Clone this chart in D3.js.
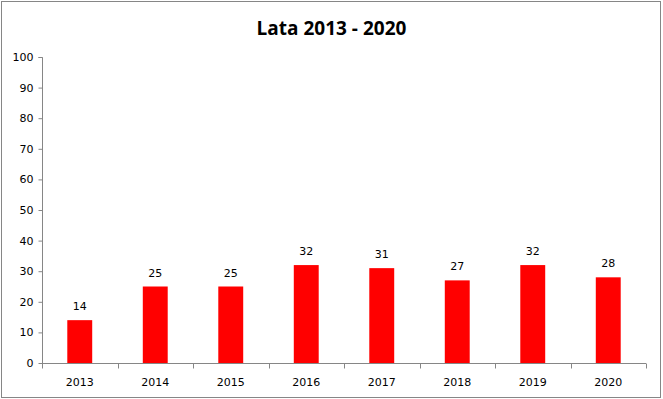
<!DOCTYPE html>
<html>
<head>
<meta charset="utf-8">
<script src="https://cdn.jsdelivr.net/npm/d3@7"></script>
<style>
  body { margin: 0; background: #fff; }
  svg text { font-family: "DejaVu Sans", Verdana, sans-serif; }
</style>
</head>
<body>
<div id="chart"></div>
<script>
// data
const years = ["2013", "2014", "2015", "2016", "2017", "2018", "2019", "2020"];
const values = [14, 25, 25, 32, 31, 27, 32, 28];
const yTicks = [0, 10, 20, 30, 40, 50, 60, 70, 80, 90, 100];
const chartTitle = "Lata 2013 - 2020";

const width = 663, height = 399;
const margin = {top: 57, right: 17, bottom: 36, left: 42};
const axisColor = "#868686";

const svg = d3.select("#chart")
  .append("svg")
    .attr("width", width)
    .attr("height", height);

// outer frame
svg.append("rect")
  .attr("x", 1.5).attr("y", 1.5)
  .attr("width", width - 4).attr("height", height - 3)
  .attr("fill", "#fff")
  .attr("stroke", axisColor)
  .attr("stroke-width", 1);

const x = d3.scaleBand()
  .domain(years)
  .range([margin.left, width - margin.right])
  .paddingInner(0.67)
  .paddingOuter(0.335);

const xb = d3.scaleBand()
  .domain(years)
  .range([margin.left, width - margin.right]);

const y = d3.scaleLinear()
  .domain([0, 100])
  .range([height - margin.bottom, margin.top]);

// title
svg.append("text")
  .attr("x", width / 2)
  .attr("y", 35)
  .attr("text-anchor", "middle")
  .style("font-family", "'Open Sans', 'Liberation Sans', sans-serif")
  .attr("font-weight", "bold")
  .attr("font-size", 19)
  .attr("fill", "#000")
  .text(chartTitle);

// y axis
svg.append("g")
  .attr("transform", `translate(${margin.left + 0.5},0)`)
  .call(d3.axisLeft(y).tickValues(yTicks).tickSize(4).tickPadding(5))
  .call(g => g.select(".domain").attr("stroke", axisColor).attr("d", `M-4,${y(100) + 0.5}H0V${y(0) + 0.5}`))
  .call(g => g.selectAll(".tick line").attr("stroke", axisColor))
  .call(g => g.selectAll(".tick text").attr("font-size", 11).attr("fill", "#000")
    .style("font-family", "'DejaVu Sans', sans-serif"));

// x axis: ticks at category boundaries
const xAxisG = svg.append("g")
  .attr("transform", `translate(0,${y(0) + 0.5})`);

xAxisG.append("line")
  .attr("x1", margin.left).attr("x2", width - margin.right)
  .attr("stroke", axisColor);

xAxisG.selectAll(".bound")
  .data(years.concat(["end"]))
  .join("line")
    .attr("class", "bound")
    .attr("x1", (d, i) => Math.round(margin.left + i * xb.bandwidth()) + 0.5)
    .attr("x2", (d, i) => Math.round(margin.left + i * xb.bandwidth()) + 0.5)
    .attr("y1", 0).attr("y2", 5)
    .attr("stroke", axisColor);

xAxisG.selectAll(".lbl")
  .data(years)
  .join("text")
    .attr("class", "lbl")
    .attr("x", d => xb(d) + xb.bandwidth() / 2)
    .attr("y", 22)
    .attr("text-anchor", "middle")
    .attr("font-size", 11)
    .attr("fill", "#000")
    .text(d => d);

// bars
svg.append("g")
  .selectAll("rect")
  .data(values)
  .join("rect")
    .attr("x", (d, i) => x(years[i]))
    .attr("y", d => y(d))
    .attr("width", x.bandwidth())
    .attr("height", d => y(0) - y(d))
    .attr("fill", "#ff0000");

// value labels
svg.append("g")
  .selectAll("text")
  .data(values)
  .join("text")
    .attr("x", (d, i) => x(years[i]) + x.bandwidth() / 2)
    .attr("y", d => y(d) - 10)
    .attr("text-anchor", "middle")
    .attr("font-size", 11)
    .attr("fill", "#000")
    .text(d => d);
</script>
</body>
</html>
